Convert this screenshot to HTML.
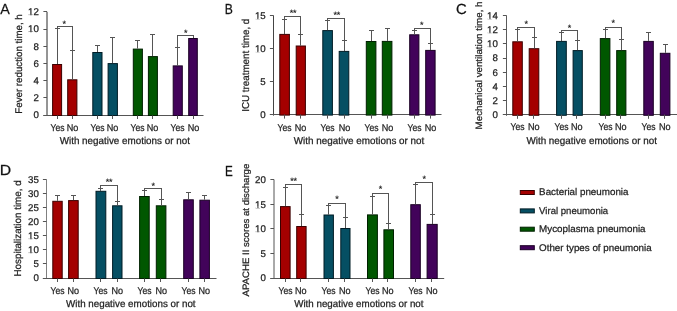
<!DOCTYPE html>
<html><head><meta charset="utf-8"><style>
html,body{margin:0;padding:0;background:#fff;width:677px;height:311px;overflow:hidden}
svg{display:block;font-family:"Liberation Sans", sans-serif;will-change:transform}
text{stroke:#222;stroke-width:0.25px;paint-order:stroke;text-rendering:geometricPrecision}
</style></head><body>
<svg width="677" height="311" viewBox="0 0 677 311">
<rect width="677" height="311" fill="#fff"/>
<line x1="47.00" y1="11.80" x2="47.00" y2="116.00" stroke="#2a2a2a" stroke-width="1"/>
<line x1="43.40" y1="115.50" x2="47.00" y2="115.50" stroke="#555555" stroke-width="1"/>
<text x="38.80" y="118.40" font-size="9.7" text-anchor="end" fill="#1e1e1e">0</text>
<line x1="43.40" y1="97.50" x2="47.00" y2="97.50" stroke="#555555" stroke-width="1"/>
<text x="38.80" y="101.20" font-size="9.7" text-anchor="end" fill="#1e1e1e">2</text>
<line x1="43.40" y1="80.50" x2="47.00" y2="80.50" stroke="#555555" stroke-width="1"/>
<text x="38.80" y="84.00" font-size="9.7" text-anchor="end" fill="#1e1e1e">4</text>
<line x1="43.40" y1="63.50" x2="47.00" y2="63.50" stroke="#555555" stroke-width="1"/>
<text x="38.80" y="66.80" font-size="9.7" text-anchor="end" fill="#1e1e1e">6</text>
<line x1="43.40" y1="46.50" x2="47.00" y2="46.50" stroke="#555555" stroke-width="1"/>
<text x="38.80" y="49.60" font-size="9.7" text-anchor="end" fill="#1e1e1e">8</text>
<line x1="43.40" y1="29.50" x2="47.00" y2="29.50" stroke="#555555" stroke-width="1"/>
<text x="38.80" y="32.40" font-size="9.7" text-anchor="end" fill="#1e1e1e">10</text>
<rect x="28.20" y="31.48" width="2.21" height="1.55" fill="#fff"/>
<rect x="31.52" y="31.48" width="1.75" height="1.55" fill="#fff"/>
<line x1="43.40" y1="11.50" x2="47.00" y2="11.50" stroke="#555555" stroke-width="1"/>
<text x="38.80" y="15.20" font-size="9.7" text-anchor="end" fill="#1e1e1e">12</text>
<rect x="28.20" y="14.28" width="2.21" height="1.55" fill="#fff"/>
<rect x="31.52" y="14.28" width="1.75" height="1.55" fill="#fff"/>
<line x1="43.40" y1="115.50" x2="203.50" y2="115.50" stroke="#555555" stroke-width="1"/>
<rect x="52.60" y="64.50" width="9.00" height="51.00" fill="#a40000" stroke="#3a0000" stroke-width="1"/>
<line x1="57.50" y1="28.50" x2="57.50" y2="64.00" stroke="#555555" stroke-width="1"/>
<line x1="55.00" y1="28.50" x2="60.00" y2="28.50" stroke="#555555" stroke-width="1"/>
<line x1="57.50" y1="115.50" x2="57.50" y2="119.00" stroke="#555555" stroke-width="1"/>
<rect x="67.70" y="79.80" width="9.20" height="35.70" fill="#a40000" stroke="#3a0000" stroke-width="1"/>
<line x1="72.50" y1="50.50" x2="72.50" y2="79.30" stroke="#555555" stroke-width="1"/>
<line x1="70.00" y1="50.50" x2="75.00" y2="50.50" stroke="#555555" stroke-width="1"/>
<line x1="72.50" y1="115.50" x2="72.50" y2="119.00" stroke="#555555" stroke-width="1"/>
<rect x="92.80" y="52.50" width="9.20" height="63.00" fill="#054f63" stroke="#011c25" stroke-width="1"/>
<line x1="97.50" y1="45.50" x2="97.50" y2="52.00" stroke="#555555" stroke-width="1"/>
<line x1="95.00" y1="45.50" x2="100.00" y2="45.50" stroke="#555555" stroke-width="1"/>
<line x1="97.50" y1="115.50" x2="97.50" y2="119.00" stroke="#555555" stroke-width="1"/>
<rect x="108.10" y="63.60" width="9.30" height="51.90" fill="#054f63" stroke="#011c25" stroke-width="1"/>
<line x1="112.50" y1="37.50" x2="112.50" y2="63.10" stroke="#555555" stroke-width="1"/>
<line x1="110.00" y1="37.50" x2="115.00" y2="37.50" stroke="#555555" stroke-width="1"/>
<line x1="112.50" y1="115.50" x2="112.50" y2="119.00" stroke="#555555" stroke-width="1"/>
<rect x="133.30" y="49.10" width="9.10" height="66.40" fill="#005700" stroke="#002000" stroke-width="1"/>
<line x1="137.50" y1="40.50" x2="137.50" y2="48.60" stroke="#555555" stroke-width="1"/>
<line x1="135.00" y1="40.50" x2="140.00" y2="40.50" stroke="#555555" stroke-width="1"/>
<line x1="137.50" y1="115.50" x2="137.50" y2="119.00" stroke="#555555" stroke-width="1"/>
<rect x="148.40" y="56.60" width="9.00" height="58.90" fill="#005700" stroke="#002000" stroke-width="1"/>
<line x1="152.50" y1="34.50" x2="152.50" y2="56.10" stroke="#555555" stroke-width="1"/>
<line x1="150.00" y1="34.50" x2="155.00" y2="34.50" stroke="#555555" stroke-width="1"/>
<line x1="152.50" y1="115.50" x2="152.50" y2="119.00" stroke="#555555" stroke-width="1"/>
<rect x="173.20" y="65.90" width="9.10" height="49.60" fill="#42035a" stroke="#1a0024" stroke-width="1"/>
<line x1="177.50" y1="47.50" x2="177.50" y2="65.40" stroke="#555555" stroke-width="1"/>
<line x1="175.00" y1="47.50" x2="180.00" y2="47.50" stroke="#555555" stroke-width="1"/>
<line x1="177.50" y1="115.50" x2="177.50" y2="119.00" stroke="#555555" stroke-width="1"/>
<rect x="188.70" y="38.50" width="8.60" height="77.00" fill="#42035a" stroke="#1a0024" stroke-width="1"/>
<line x1="193.50" y1="115.50" x2="193.50" y2="119.00" stroke="#555555" stroke-width="1"/>
<line x1="57.00" y1="26.50" x2="73.00" y2="26.50" stroke="#555555" stroke-width="1"/>
<line x1="57.50" y1="26.50" x2="57.50" y2="64.00" stroke="#555555" stroke-width="1"/>
<line x1="72.50" y1="26.50" x2="72.50" y2="79.30" stroke="#555555" stroke-width="1"/>
<text x="64.20" y="26.70" font-size="9" text-anchor="middle" fill="#111" style="stroke-width:0.15px;letter-spacing:-0.3px">*</text>
<line x1="177.00" y1="35.50" x2="194.00" y2="35.50" stroke="#555555" stroke-width="1"/>
<line x1="177.50" y1="35.50" x2="177.50" y2="65.40" stroke="#555555" stroke-width="1"/>
<line x1="193.50" y1="35.50" x2="193.50" y2="38.00" stroke="#555555" stroke-width="1"/>
<text x="185.50" y="35.90" font-size="9" text-anchor="middle" fill="#111" style="stroke-width:0.15px;letter-spacing:-0.3px">*</text>
<text x="57.60" y="131.00" font-size="9.8" text-anchor="middle" fill="#1e1e1e" textLength="14.0" lengthAdjust="spacingAndGlyphs">Yes</text>
<text x="72.60" y="131.00" font-size="9.8" text-anchor="middle" fill="#1e1e1e" textLength="11.6" lengthAdjust="spacingAndGlyphs">No</text>
<text x="97.60" y="131.00" font-size="9.8" text-anchor="middle" fill="#1e1e1e" textLength="14.0" lengthAdjust="spacingAndGlyphs">Yes</text>
<text x="112.60" y="131.00" font-size="9.8" text-anchor="middle" fill="#1e1e1e" textLength="11.6" lengthAdjust="spacingAndGlyphs">No</text>
<text x="137.60" y="131.00" font-size="9.8" text-anchor="middle" fill="#1e1e1e" textLength="14.0" lengthAdjust="spacingAndGlyphs">Yes</text>
<text x="152.60" y="131.00" font-size="9.8" text-anchor="middle" fill="#1e1e1e" textLength="11.6" lengthAdjust="spacingAndGlyphs">No</text>
<text x="177.60" y="131.00" font-size="9.8" text-anchor="middle" fill="#1e1e1e" textLength="14.0" lengthAdjust="spacingAndGlyphs">Yes</text>
<text x="193.60" y="131.00" font-size="9.8" text-anchor="middle" fill="#1e1e1e" textLength="11.6" lengthAdjust="spacingAndGlyphs">No</text>
<text x="124.80" y="143.70" font-size="10.0" text-anchor="middle" fill="#1e1e1e" textLength="130.2" lengthAdjust="spacingAndGlyphs">With negative emotions or not</text>
<text x="0" y="0" font-size="9.7" text-anchor="middle" fill="#1e1e1e" transform="translate(22.0,64.00) rotate(-90)" textLength="99.4" lengthAdjust="spacingAndGlyphs">Fever reduction time, h</text>
<text x="0" y="0" font-size="14.6" fill="#111" transform="translate(0.2,13.5) scale(0.98,1)">A</text>
<line x1="273.50" y1="15.40" x2="273.50" y2="115.60" stroke="#444" stroke-width="1"/>
<line x1="269.90" y1="114.50" x2="273.50" y2="114.50" stroke="#555555" stroke-width="1"/>
<text x="265.70" y="118.00" font-size="9.7" text-anchor="end" fill="#1e1e1e">0</text>
<line x1="269.90" y1="81.50" x2="273.50" y2="81.50" stroke="#555555" stroke-width="1"/>
<text x="265.70" y="84.94" font-size="9.7" text-anchor="end" fill="#1e1e1e">5</text>
<line x1="269.90" y1="48.50" x2="273.50" y2="48.50" stroke="#555555" stroke-width="1"/>
<text x="265.70" y="51.87" font-size="9.7" text-anchor="end" fill="#1e1e1e">10</text>
<rect x="255.10" y="50.95" width="2.21" height="1.55" fill="#fff"/>
<rect x="258.42" y="50.95" width="1.75" height="1.55" fill="#fff"/>
<line x1="269.90" y1="15.50" x2="273.50" y2="15.50" stroke="#555555" stroke-width="1"/>
<text x="265.70" y="18.80" font-size="9.7" text-anchor="end" fill="#1e1e1e">15</text>
<rect x="255.10" y="17.88" width="2.21" height="1.55" fill="#fff"/>
<rect x="258.42" y="17.88" width="1.75" height="1.55" fill="#fff"/>
<line x1="269.90" y1="114.50" x2="441.50" y2="114.50" stroke="#555555" stroke-width="1"/>
<rect x="279.80" y="34.40" width="9.60" height="80.70" fill="#a40000" stroke="#3a0000" stroke-width="1"/>
<line x1="284.50" y1="19.50" x2="284.50" y2="33.90" stroke="#555555" stroke-width="1"/>
<line x1="282.00" y1="19.50" x2="287.00" y2="19.50" stroke="#555555" stroke-width="1"/>
<line x1="284.50" y1="114.50" x2="284.50" y2="118.60" stroke="#555555" stroke-width="1"/>
<rect x="296.20" y="46.00" width="9.20" height="69.10" fill="#a40000" stroke="#3a0000" stroke-width="1"/>
<line x1="300.50" y1="34.50" x2="300.50" y2="45.50" stroke="#555555" stroke-width="1"/>
<line x1="298.00" y1="34.50" x2="303.00" y2="34.50" stroke="#555555" stroke-width="1"/>
<line x1="300.50" y1="114.50" x2="300.50" y2="118.60" stroke="#555555" stroke-width="1"/>
<rect x="322.80" y="30.60" width="9.60" height="84.50" fill="#054f63" stroke="#011c25" stroke-width="1"/>
<line x1="327.50" y1="20.50" x2="327.50" y2="30.10" stroke="#555555" stroke-width="1"/>
<line x1="325.00" y1="20.50" x2="330.00" y2="20.50" stroke="#555555" stroke-width="1"/>
<line x1="327.50" y1="114.50" x2="327.50" y2="118.60" stroke="#555555" stroke-width="1"/>
<rect x="339.20" y="51.40" width="9.60" height="63.70" fill="#054f63" stroke="#011c25" stroke-width="1"/>
<line x1="344.50" y1="40.50" x2="344.50" y2="50.90" stroke="#555555" stroke-width="1"/>
<line x1="342.00" y1="40.50" x2="347.00" y2="40.50" stroke="#555555" stroke-width="1"/>
<line x1="344.50" y1="114.50" x2="344.50" y2="118.60" stroke="#555555" stroke-width="1"/>
<rect x="366.30" y="41.50" width="9.60" height="73.60" fill="#005700" stroke="#002000" stroke-width="1"/>
<line x1="371.50" y1="30.50" x2="371.50" y2="41.00" stroke="#555555" stroke-width="1"/>
<line x1="369.00" y1="30.50" x2="374.00" y2="30.50" stroke="#555555" stroke-width="1"/>
<line x1="371.50" y1="114.50" x2="371.50" y2="118.60" stroke="#555555" stroke-width="1"/>
<rect x="382.30" y="41.40" width="9.60" height="73.70" fill="#005700" stroke="#002000" stroke-width="1"/>
<line x1="387.50" y1="28.50" x2="387.50" y2="40.90" stroke="#555555" stroke-width="1"/>
<line x1="385.00" y1="28.50" x2="390.00" y2="28.50" stroke="#555555" stroke-width="1"/>
<line x1="387.50" y1="114.50" x2="387.50" y2="118.60" stroke="#555555" stroke-width="1"/>
<rect x="409.70" y="34.80" width="9.20" height="80.30" fill="#42035a" stroke="#1a0024" stroke-width="1"/>
<line x1="414.50" y1="30.50" x2="414.50" y2="34.30" stroke="#555555" stroke-width="1"/>
<line x1="412.00" y1="30.50" x2="417.00" y2="30.50" stroke="#555555" stroke-width="1"/>
<line x1="414.50" y1="114.50" x2="414.50" y2="118.60" stroke="#555555" stroke-width="1"/>
<rect x="425.70" y="50.40" width="9.40" height="64.70" fill="#42035a" stroke="#1a0024" stroke-width="1"/>
<line x1="430.50" y1="43.50" x2="430.50" y2="49.90" stroke="#555555" stroke-width="1"/>
<line x1="428.00" y1="43.50" x2="433.00" y2="43.50" stroke="#555555" stroke-width="1"/>
<line x1="430.50" y1="114.50" x2="430.50" y2="118.60" stroke="#555555" stroke-width="1"/>
<line x1="284.00" y1="16.50" x2="301.00" y2="16.50" stroke="#555555" stroke-width="1"/>
<line x1="284.50" y1="16.50" x2="284.50" y2="33.90" stroke="#555555" stroke-width="1"/>
<line x1="300.50" y1="16.50" x2="300.50" y2="45.50" stroke="#555555" stroke-width="1"/>
<text x="293.00" y="15.80" font-size="9" text-anchor="middle" fill="#111" style="stroke-width:0.15px;letter-spacing:-0.3px">**</text>
<line x1="327.00" y1="18.50" x2="345.00" y2="18.50" stroke="#555555" stroke-width="1"/>
<line x1="327.50" y1="18.50" x2="327.50" y2="30.10" stroke="#555555" stroke-width="1"/>
<line x1="344.50" y1="18.50" x2="344.50" y2="50.90" stroke="#555555" stroke-width="1"/>
<text x="336.80" y="17.60" font-size="9" text-anchor="middle" fill="#111" style="stroke-width:0.15px;letter-spacing:-0.3px">**</text>
<line x1="414.00" y1="28.50" x2="431.00" y2="28.50" stroke="#555555" stroke-width="1"/>
<line x1="414.50" y1="28.50" x2="414.50" y2="34.30" stroke="#555555" stroke-width="1"/>
<line x1="430.50" y1="28.50" x2="430.50" y2="49.90" stroke="#555555" stroke-width="1"/>
<text x="421.70" y="28.20" font-size="9" text-anchor="middle" fill="#111" style="stroke-width:0.15px;letter-spacing:-0.3px">*</text>
<text x="284.60" y="130.70" font-size="9.8" text-anchor="middle" fill="#1e1e1e" textLength="14.0" lengthAdjust="spacingAndGlyphs">Yes</text>
<text x="300.60" y="130.70" font-size="9.8" text-anchor="middle" fill="#1e1e1e" textLength="11.6" lengthAdjust="spacingAndGlyphs">No</text>
<text x="327.60" y="130.70" font-size="9.8" text-anchor="middle" fill="#1e1e1e" textLength="14.0" lengthAdjust="spacingAndGlyphs">Yes</text>
<text x="344.60" y="130.70" font-size="9.8" text-anchor="middle" fill="#1e1e1e" textLength="11.6" lengthAdjust="spacingAndGlyphs">No</text>
<text x="371.60" y="130.70" font-size="9.8" text-anchor="middle" fill="#1e1e1e" textLength="14.0" lengthAdjust="spacingAndGlyphs">Yes</text>
<text x="387.60" y="130.70" font-size="9.8" text-anchor="middle" fill="#1e1e1e" textLength="11.6" lengthAdjust="spacingAndGlyphs">No</text>
<text x="414.60" y="130.70" font-size="9.8" text-anchor="middle" fill="#1e1e1e" textLength="14.0" lengthAdjust="spacingAndGlyphs">Yes</text>
<text x="430.60" y="130.70" font-size="9.8" text-anchor="middle" fill="#1e1e1e" textLength="11.6" lengthAdjust="spacingAndGlyphs">No</text>
<text x="359.05" y="143.80" font-size="10.0" text-anchor="middle" fill="#1e1e1e" textLength="130.5" lengthAdjust="spacingAndGlyphs">With negative emotions or not</text>
<text x="0" y="0" font-size="10.0" text-anchor="middle" fill="#1e1e1e" transform="translate(248.5,65.20) rotate(-90)" textLength="93.0" lengthAdjust="spacingAndGlyphs">ICU treatment time, d</text>
<text x="0" y="0" font-size="14.6" fill="#111" transform="translate(224.7,13.6) scale(0.83,1)">B</text>
<line x1="506.50" y1="15.40" x2="506.50" y2="115.80" stroke="#5a5a5a" stroke-width="1"/>
<line x1="502.90" y1="114.50" x2="506.50" y2="114.50" stroke="#555555" stroke-width="1"/>
<text x="497.80" y="118.20" font-size="9.7" text-anchor="end" fill="#1e1e1e">0</text>
<line x1="502.90" y1="100.50" x2="506.50" y2="100.50" stroke="#555555" stroke-width="1"/>
<text x="497.80" y="104.00" font-size="9.7" text-anchor="end" fill="#1e1e1e">2</text>
<line x1="502.90" y1="86.50" x2="506.50" y2="86.50" stroke="#555555" stroke-width="1"/>
<text x="497.80" y="89.80" font-size="9.7" text-anchor="end" fill="#1e1e1e">4</text>
<line x1="502.90" y1="72.50" x2="506.50" y2="72.50" stroke="#555555" stroke-width="1"/>
<text x="497.80" y="75.60" font-size="9.7" text-anchor="end" fill="#1e1e1e">6</text>
<line x1="502.90" y1="58.50" x2="506.50" y2="58.50" stroke="#555555" stroke-width="1"/>
<text x="497.80" y="61.40" font-size="9.7" text-anchor="end" fill="#1e1e1e">8</text>
<line x1="502.90" y1="43.50" x2="506.50" y2="43.50" stroke="#555555" stroke-width="1"/>
<text x="497.80" y="47.20" font-size="9.7" text-anchor="end" fill="#1e1e1e">10</text>
<rect x="487.20" y="46.28" width="2.21" height="1.55" fill="#fff"/>
<rect x="490.52" y="46.28" width="1.75" height="1.55" fill="#fff"/>
<line x1="502.90" y1="29.50" x2="506.50" y2="29.50" stroke="#555555" stroke-width="1"/>
<text x="497.80" y="33.00" font-size="9.7" text-anchor="end" fill="#1e1e1e">12</text>
<rect x="487.20" y="32.08" width="2.21" height="1.55" fill="#fff"/>
<rect x="490.52" y="32.08" width="1.75" height="1.55" fill="#fff"/>
<line x1="502.90" y1="15.50" x2="506.50" y2="15.50" stroke="#555555" stroke-width="1"/>
<text x="497.80" y="18.80" font-size="9.7" text-anchor="end" fill="#1e1e1e">14</text>
<rect x="487.20" y="17.88" width="2.21" height="1.55" fill="#fff"/>
<rect x="490.52" y="17.88" width="1.75" height="1.55" fill="#fff"/>
<line x1="502.90" y1="114.50" x2="677.00" y2="114.50" stroke="#555555" stroke-width="1"/>
<rect x="512.80" y="41.80" width="9.50" height="73.50" fill="#a40000" stroke="#3a0000" stroke-width="1"/>
<line x1="517.50" y1="29.50" x2="517.50" y2="41.30" stroke="#555555" stroke-width="1"/>
<line x1="515.00" y1="29.50" x2="520.00" y2="29.50" stroke="#555555" stroke-width="1"/>
<line x1="517.50" y1="114.50" x2="517.50" y2="118.80" stroke="#555555" stroke-width="1"/>
<rect x="529.20" y="48.70" width="9.60" height="66.60" fill="#a40000" stroke="#3a0000" stroke-width="1"/>
<line x1="534.50" y1="37.50" x2="534.50" y2="48.20" stroke="#555555" stroke-width="1"/>
<line x1="532.00" y1="37.50" x2="537.00" y2="37.50" stroke="#555555" stroke-width="1"/>
<line x1="533.50" y1="114.50" x2="533.50" y2="118.80" stroke="#555555" stroke-width="1"/>
<rect x="556.60" y="41.40" width="9.70" height="73.90" fill="#054f63" stroke="#011c25" stroke-width="1"/>
<line x1="561.50" y1="32.50" x2="561.50" y2="40.90" stroke="#555555" stroke-width="1"/>
<line x1="559.00" y1="32.50" x2="564.00" y2="32.50" stroke="#555555" stroke-width="1"/>
<line x1="561.50" y1="114.50" x2="561.50" y2="118.80" stroke="#555555" stroke-width="1"/>
<rect x="573.10" y="50.60" width="9.20" height="64.70" fill="#054f63" stroke="#011c25" stroke-width="1"/>
<line x1="577.50" y1="40.50" x2="577.50" y2="50.10" stroke="#555555" stroke-width="1"/>
<line x1="575.00" y1="40.50" x2="580.00" y2="40.50" stroke="#555555" stroke-width="1"/>
<line x1="576.50" y1="114.50" x2="576.50" y2="118.80" stroke="#555555" stroke-width="1"/>
<rect x="600.30" y="38.60" width="9.60" height="76.70" fill="#005700" stroke="#002000" stroke-width="1"/>
<line x1="605.50" y1="29.50" x2="605.50" y2="38.10" stroke="#555555" stroke-width="1"/>
<line x1="603.00" y1="29.50" x2="608.00" y2="29.50" stroke="#555555" stroke-width="1"/>
<line x1="605.50" y1="114.50" x2="605.50" y2="118.80" stroke="#555555" stroke-width="1"/>
<rect x="616.70" y="50.60" width="9.20" height="64.70" fill="#005700" stroke="#002000" stroke-width="1"/>
<line x1="621.50" y1="39.50" x2="621.50" y2="50.10" stroke="#555555" stroke-width="1"/>
<line x1="619.00" y1="39.50" x2="624.00" y2="39.50" stroke="#555555" stroke-width="1"/>
<line x1="620.50" y1="114.50" x2="620.50" y2="118.80" stroke="#555555" stroke-width="1"/>
<rect x="643.80" y="41.40" width="9.50" height="73.90" fill="#42035a" stroke="#1a0024" stroke-width="1"/>
<line x1="648.50" y1="32.50" x2="648.50" y2="40.90" stroke="#555555" stroke-width="1"/>
<line x1="646.00" y1="32.50" x2="651.00" y2="32.50" stroke="#555555" stroke-width="1"/>
<line x1="648.50" y1="114.50" x2="648.50" y2="118.80" stroke="#555555" stroke-width="1"/>
<rect x="660.30" y="53.30" width="9.60" height="62.00" fill="#42035a" stroke="#1a0024" stroke-width="1"/>
<line x1="665.50" y1="44.50" x2="665.50" y2="52.80" stroke="#555555" stroke-width="1"/>
<line x1="663.00" y1="44.50" x2="668.00" y2="44.50" stroke="#555555" stroke-width="1"/>
<line x1="664.50" y1="114.50" x2="664.50" y2="118.80" stroke="#555555" stroke-width="1"/>
<line x1="517.00" y1="27.50" x2="535.00" y2="27.50" stroke="#555555" stroke-width="1"/>
<line x1="517.50" y1="27.50" x2="517.50" y2="41.30" stroke="#555555" stroke-width="1"/>
<line x1="534.50" y1="27.50" x2="534.50" y2="48.20" stroke="#555555" stroke-width="1"/>
<text x="526.20" y="27.00" font-size="9" text-anchor="middle" fill="#111" style="stroke-width:0.15px;letter-spacing:-0.3px">*</text>
<line x1="561.00" y1="30.50" x2="578.00" y2="30.50" stroke="#555555" stroke-width="1"/>
<line x1="561.50" y1="30.50" x2="561.50" y2="40.90" stroke="#555555" stroke-width="1"/>
<line x1="577.50" y1="30.50" x2="577.50" y2="50.10" stroke="#555555" stroke-width="1"/>
<text x="569.30" y="30.90" font-size="9" text-anchor="middle" fill="#111" style="stroke-width:0.15px;letter-spacing:-0.3px">*</text>
<line x1="605.00" y1="27.50" x2="622.00" y2="27.50" stroke="#555555" stroke-width="1"/>
<line x1="605.50" y1="27.50" x2="605.50" y2="38.10" stroke="#555555" stroke-width="1"/>
<line x1="621.50" y1="27.50" x2="621.50" y2="50.10" stroke="#555555" stroke-width="1"/>
<text x="613.00" y="26.40" font-size="9" text-anchor="middle" fill="#111" style="stroke-width:0.15px;letter-spacing:-0.3px">*</text>
<text x="517.60" y="130.30" font-size="9.8" text-anchor="middle" fill="#1e1e1e" textLength="14.0" lengthAdjust="spacingAndGlyphs">Yes</text>
<text x="533.70" y="130.30" font-size="9.8" text-anchor="middle" fill="#1e1e1e" textLength="11.6" lengthAdjust="spacingAndGlyphs">No</text>
<text x="561.60" y="130.30" font-size="9.8" text-anchor="middle" fill="#1e1e1e" textLength="14.0" lengthAdjust="spacingAndGlyphs">Yes</text>
<text x="576.70" y="130.30" font-size="9.8" text-anchor="middle" fill="#1e1e1e" textLength="11.6" lengthAdjust="spacingAndGlyphs">No</text>
<text x="605.60" y="130.30" font-size="9.8" text-anchor="middle" fill="#1e1e1e" textLength="14.0" lengthAdjust="spacingAndGlyphs">Yes</text>
<text x="620.70" y="130.30" font-size="9.8" text-anchor="middle" fill="#1e1e1e" textLength="11.6" lengthAdjust="spacingAndGlyphs">No</text>
<text x="648.60" y="130.30" font-size="9.8" text-anchor="middle" fill="#1e1e1e" textLength="14.0" lengthAdjust="spacingAndGlyphs">Yes</text>
<text x="664.70" y="130.30" font-size="9.8" text-anchor="middle" fill="#1e1e1e" textLength="11.6" lengthAdjust="spacingAndGlyphs">No</text>
<text x="591.65" y="143.60" font-size="10.0" text-anchor="middle" fill="#1e1e1e" textLength="130.5" lengthAdjust="spacingAndGlyphs">With negative emotions or not</text>
<text x="0" y="0" font-size="9.3" text-anchor="middle" fill="#1e1e1e" transform="translate(481.6,65.45) rotate(-90)" textLength="127.9" lengthAdjust="spacingAndGlyphs">Mechanical ventilation time, h</text>
<text x="0" y="0" font-size="14.6" fill="#111" transform="translate(456.1,13.6) scale(1.02,1)">C</text>
<line x1="46.50" y1="179.41" x2="46.50" y2="279.00" stroke="#808080" stroke-width="1"/>
<line x1="42.90" y1="278.50" x2="46.50" y2="278.50" stroke="#555555" stroke-width="1"/>
<text x="38.80" y="281.40" font-size="9.7" text-anchor="end" fill="#1e1e1e">0</text>
<line x1="42.90" y1="263.50" x2="46.50" y2="263.50" stroke="#555555" stroke-width="1"/>
<text x="38.80" y="267.31" font-size="9.7" text-anchor="end" fill="#1e1e1e">5</text>
<line x1="42.90" y1="249.50" x2="46.50" y2="249.50" stroke="#555555" stroke-width="1"/>
<text x="38.80" y="253.23" font-size="9.7" text-anchor="end" fill="#1e1e1e">10</text>
<rect x="28.20" y="252.31" width="2.21" height="1.55" fill="#fff"/>
<rect x="31.52" y="252.31" width="1.75" height="1.55" fill="#fff"/>
<line x1="42.90" y1="235.50" x2="46.50" y2="235.50" stroke="#555555" stroke-width="1"/>
<text x="38.80" y="239.15" font-size="9.7" text-anchor="end" fill="#1e1e1e">15</text>
<rect x="28.20" y="238.22" width="2.21" height="1.55" fill="#fff"/>
<rect x="31.52" y="238.22" width="1.75" height="1.55" fill="#fff"/>
<line x1="42.90" y1="221.50" x2="46.50" y2="221.50" stroke="#555555" stroke-width="1"/>
<text x="38.80" y="225.06" font-size="9.7" text-anchor="end" fill="#1e1e1e">20</text>
<line x1="42.90" y1="207.50" x2="46.50" y2="207.50" stroke="#555555" stroke-width="1"/>
<text x="38.80" y="210.97" font-size="9.7" text-anchor="end" fill="#1e1e1e">25</text>
<line x1="42.90" y1="193.50" x2="46.50" y2="193.50" stroke="#555555" stroke-width="1"/>
<text x="38.80" y="196.89" font-size="9.7" text-anchor="end" fill="#1e1e1e">30</text>
<line x1="42.90" y1="179.50" x2="46.50" y2="179.50" stroke="#555555" stroke-width="1"/>
<text x="38.80" y="182.81" font-size="9.7" text-anchor="end" fill="#1e1e1e">35</text>
<line x1="42.90" y1="278.50" x2="216.50" y2="278.50" stroke="#555555" stroke-width="1"/>
<rect x="52.80" y="201.30" width="9.40" height="77.20" fill="#a40000" stroke="#3a0000" stroke-width="1"/>
<line x1="57.50" y1="195.50" x2="57.50" y2="200.80" stroke="#555555" stroke-width="1"/>
<line x1="55.00" y1="195.50" x2="60.00" y2="195.50" stroke="#555555" stroke-width="1"/>
<line x1="57.50" y1="278.50" x2="57.50" y2="282.00" stroke="#555555" stroke-width="1"/>
<rect x="68.60" y="200.60" width="9.60" height="77.90" fill="#a40000" stroke="#3a0000" stroke-width="1"/>
<line x1="73.50" y1="195.50" x2="73.50" y2="200.10" stroke="#555555" stroke-width="1"/>
<line x1="71.00" y1="195.50" x2="76.00" y2="195.50" stroke="#555555" stroke-width="1"/>
<line x1="73.50" y1="278.50" x2="73.50" y2="282.00" stroke="#555555" stroke-width="1"/>
<rect x="96.00" y="191.30" width="9.80" height="87.20" fill="#054f63" stroke="#011c25" stroke-width="1"/>
<line x1="100.50" y1="188.50" x2="100.50" y2="190.80" stroke="#555555" stroke-width="1"/>
<line x1="98.00" y1="188.50" x2="103.00" y2="188.50" stroke="#555555" stroke-width="1"/>
<line x1="100.50" y1="278.50" x2="100.50" y2="282.00" stroke="#555555" stroke-width="1"/>
<rect x="112.60" y="205.80" width="9.40" height="72.70" fill="#054f63" stroke="#011c25" stroke-width="1"/>
<line x1="117.50" y1="201.50" x2="117.50" y2="205.30" stroke="#555555" stroke-width="1"/>
<line x1="115.00" y1="201.50" x2="120.00" y2="201.50" stroke="#555555" stroke-width="1"/>
<line x1="117.50" y1="278.50" x2="117.50" y2="282.00" stroke="#555555" stroke-width="1"/>
<rect x="139.60" y="196.50" width="9.60" height="82.00" fill="#005700" stroke="#002000" stroke-width="1"/>
<line x1="144.50" y1="190.50" x2="144.50" y2="196.00" stroke="#555555" stroke-width="1"/>
<line x1="142.00" y1="190.50" x2="147.00" y2="190.50" stroke="#555555" stroke-width="1"/>
<line x1="144.50" y1="278.50" x2="144.50" y2="282.00" stroke="#555555" stroke-width="1"/>
<rect x="156.30" y="205.80" width="9.60" height="72.70" fill="#005700" stroke="#002000" stroke-width="1"/>
<line x1="161.50" y1="199.50" x2="161.50" y2="205.30" stroke="#555555" stroke-width="1"/>
<line x1="159.00" y1="199.50" x2="164.00" y2="199.50" stroke="#555555" stroke-width="1"/>
<line x1="160.50" y1="278.50" x2="160.50" y2="282.00" stroke="#555555" stroke-width="1"/>
<rect x="183.70" y="199.80" width="9.60" height="78.70" fill="#42035a" stroke="#1a0024" stroke-width="1"/>
<line x1="188.50" y1="192.50" x2="188.50" y2="199.30" stroke="#555555" stroke-width="1"/>
<line x1="186.00" y1="192.50" x2="191.00" y2="192.50" stroke="#555555" stroke-width="1"/>
<line x1="188.50" y1="278.50" x2="188.50" y2="282.00" stroke="#555555" stroke-width="1"/>
<rect x="199.90" y="200.20" width="9.50" height="78.30" fill="#42035a" stroke="#1a0024" stroke-width="1"/>
<line x1="204.50" y1="195.50" x2="204.50" y2="199.70" stroke="#555555" stroke-width="1"/>
<line x1="202.00" y1="195.50" x2="207.00" y2="195.50" stroke="#555555" stroke-width="1"/>
<line x1="204.50" y1="278.50" x2="204.50" y2="282.00" stroke="#555555" stroke-width="1"/>
<line x1="100.00" y1="185.50" x2="118.00" y2="185.50" stroke="#555555" stroke-width="1"/>
<line x1="100.50" y1="185.50" x2="100.50" y2="190.80" stroke="#555555" stroke-width="1"/>
<line x1="117.50" y1="185.50" x2="117.50" y2="205.30" stroke="#555555" stroke-width="1"/>
<text x="108.90" y="184.90" font-size="9" text-anchor="middle" fill="#111" style="stroke-width:0.15px;letter-spacing:-0.3px">**</text>
<line x1="144.00" y1="188.50" x2="162.00" y2="188.50" stroke="#555555" stroke-width="1"/>
<line x1="144.50" y1="188.50" x2="144.50" y2="196.00" stroke="#555555" stroke-width="1"/>
<line x1="161.50" y1="188.50" x2="161.50" y2="205.30" stroke="#555555" stroke-width="1"/>
<text x="153.00" y="188.90" font-size="9" text-anchor="middle" fill="#111" style="stroke-width:0.15px;letter-spacing:-0.3px">*</text>
<text x="57.60" y="294.10" font-size="9.8" text-anchor="middle" fill="#1e1e1e" textLength="14.0" lengthAdjust="spacingAndGlyphs">Yes</text>
<text x="73.30" y="294.10" font-size="9.8" text-anchor="middle" fill="#1e1e1e" textLength="11.6" lengthAdjust="spacingAndGlyphs">No</text>
<text x="100.60" y="294.10" font-size="9.8" text-anchor="middle" fill="#1e1e1e" textLength="14.0" lengthAdjust="spacingAndGlyphs">Yes</text>
<text x="117.30" y="294.10" font-size="9.8" text-anchor="middle" fill="#1e1e1e" textLength="11.6" lengthAdjust="spacingAndGlyphs">No</text>
<text x="144.60" y="294.10" font-size="9.8" text-anchor="middle" fill="#1e1e1e" textLength="14.0" lengthAdjust="spacingAndGlyphs">Yes</text>
<text x="161.30" y="294.10" font-size="9.8" text-anchor="middle" fill="#1e1e1e" textLength="11.6" lengthAdjust="spacingAndGlyphs">No</text>
<text x="188.60" y="294.10" font-size="9.8" text-anchor="middle" fill="#1e1e1e" textLength="14.0" lengthAdjust="spacingAndGlyphs">Yes</text>
<text x="204.30" y="294.10" font-size="9.8" text-anchor="middle" fill="#1e1e1e" textLength="11.6" lengthAdjust="spacingAndGlyphs">No</text>
<text x="130.80" y="307.00" font-size="10.0" text-anchor="middle" fill="#1e1e1e" textLength="129.6" lengthAdjust="spacingAndGlyphs">With negative emotions or not</text>
<text x="0" y="0" font-size="9.9" text-anchor="middle" fill="#1e1e1e" transform="translate(21.4,228.40) rotate(-90)" textLength="96.2" lengthAdjust="spacingAndGlyphs">Hospitalization time, d</text>
<text x="0" y="0" font-size="14.6" fill="#111" transform="translate(-0.2,175.2) scale(1.08,1)">D</text>
<line x1="274.00" y1="179.50" x2="274.00" y2="279.00" stroke="#555" stroke-width="1"/>
<line x1="270.40" y1="278.50" x2="274.00" y2="278.50" stroke="#555555" stroke-width="1"/>
<text x="265.80" y="281.40" font-size="9.7" text-anchor="end" fill="#1e1e1e">0</text>
<line x1="270.40" y1="253.50" x2="274.00" y2="253.50" stroke="#555555" stroke-width="1"/>
<text x="265.80" y="256.77" font-size="9.7" text-anchor="end" fill="#1e1e1e">5</text>
<line x1="270.40" y1="228.50" x2="274.00" y2="228.50" stroke="#555555" stroke-width="1"/>
<text x="265.80" y="232.15" font-size="9.7" text-anchor="end" fill="#1e1e1e">10</text>
<rect x="255.20" y="231.23" width="2.21" height="1.55" fill="#fff"/>
<rect x="258.52" y="231.23" width="1.75" height="1.55" fill="#fff"/>
<line x1="270.40" y1="204.50" x2="274.00" y2="204.50" stroke="#555555" stroke-width="1"/>
<text x="265.80" y="207.53" font-size="9.7" text-anchor="end" fill="#1e1e1e">15</text>
<rect x="255.20" y="206.60" width="2.21" height="1.55" fill="#fff"/>
<rect x="258.52" y="206.60" width="1.75" height="1.55" fill="#fff"/>
<line x1="270.40" y1="179.50" x2="274.00" y2="179.50" stroke="#555555" stroke-width="1"/>
<text x="265.80" y="182.90" font-size="9.7" text-anchor="end" fill="#1e1e1e">20</text>
<line x1="270.40" y1="278.50" x2="444.20" y2="278.50" stroke="#555555" stroke-width="1"/>
<rect x="280.50" y="206.60" width="9.60" height="71.90" fill="#a40000" stroke="#3a0000" stroke-width="1"/>
<line x1="285.50" y1="187.50" x2="285.50" y2="206.10" stroke="#555555" stroke-width="1"/>
<line x1="283.00" y1="187.50" x2="288.00" y2="187.50" stroke="#555555" stroke-width="1"/>
<line x1="285.50" y1="278.50" x2="285.50" y2="282.00" stroke="#555555" stroke-width="1"/>
<rect x="296.70" y="226.50" width="9.40" height="52.00" fill="#a40000" stroke="#3a0000" stroke-width="1"/>
<line x1="301.50" y1="214.50" x2="301.50" y2="226.00" stroke="#555555" stroke-width="1"/>
<line x1="299.00" y1="214.50" x2="304.00" y2="214.50" stroke="#555555" stroke-width="1"/>
<line x1="300.50" y1="278.50" x2="300.50" y2="282.00" stroke="#555555" stroke-width="1"/>
<rect x="324.00" y="215.00" width="9.40" height="63.50" fill="#054f63" stroke="#011c25" stroke-width="1"/>
<line x1="328.50" y1="205.50" x2="328.50" y2="214.50" stroke="#555555" stroke-width="1"/>
<line x1="326.00" y1="205.50" x2="331.00" y2="205.50" stroke="#555555" stroke-width="1"/>
<line x1="328.50" y1="278.50" x2="328.50" y2="282.00" stroke="#555555" stroke-width="1"/>
<rect x="340.80" y="228.50" width="9.20" height="50.00" fill="#054f63" stroke="#011c25" stroke-width="1"/>
<line x1="345.50" y1="217.50" x2="345.50" y2="228.00" stroke="#555555" stroke-width="1"/>
<line x1="343.00" y1="217.50" x2="348.00" y2="217.50" stroke="#555555" stroke-width="1"/>
<line x1="344.50" y1="278.50" x2="344.50" y2="282.00" stroke="#555555" stroke-width="1"/>
<rect x="367.50" y="214.90" width="9.90" height="63.60" fill="#005700" stroke="#002000" stroke-width="1"/>
<line x1="372.50" y1="196.50" x2="372.50" y2="214.40" stroke="#555555" stroke-width="1"/>
<line x1="370.00" y1="196.50" x2="375.00" y2="196.50" stroke="#555555" stroke-width="1"/>
<line x1="372.50" y1="278.50" x2="372.50" y2="282.00" stroke="#555555" stroke-width="1"/>
<rect x="383.90" y="229.80" width="9.60" height="48.70" fill="#005700" stroke="#002000" stroke-width="1"/>
<line x1="388.50" y1="223.50" x2="388.50" y2="229.30" stroke="#555555" stroke-width="1"/>
<line x1="386.00" y1="223.50" x2="391.00" y2="223.50" stroke="#555555" stroke-width="1"/>
<line x1="387.50" y1="278.50" x2="387.50" y2="282.00" stroke="#555555" stroke-width="1"/>
<rect x="410.80" y="204.70" width="9.50" height="73.80" fill="#42035a" stroke="#1a0024" stroke-width="1"/>
<line x1="415.50" y1="184.50" x2="415.50" y2="204.20" stroke="#555555" stroke-width="1"/>
<line x1="413.00" y1="184.50" x2="418.00" y2="184.50" stroke="#555555" stroke-width="1"/>
<line x1="415.50" y1="278.50" x2="415.50" y2="282.00" stroke="#555555" stroke-width="1"/>
<rect x="427.10" y="224.40" width="10.10" height="54.10" fill="#42035a" stroke="#1a0024" stroke-width="1"/>
<line x1="432.50" y1="214.50" x2="432.50" y2="223.90" stroke="#555555" stroke-width="1"/>
<line x1="430.00" y1="214.50" x2="435.00" y2="214.50" stroke="#555555" stroke-width="1"/>
<line x1="431.50" y1="278.50" x2="431.50" y2="282.00" stroke="#555555" stroke-width="1"/>
<line x1="285.00" y1="184.50" x2="302.00" y2="184.50" stroke="#555555" stroke-width="1"/>
<line x1="285.50" y1="184.50" x2="285.50" y2="206.10" stroke="#555555" stroke-width="1"/>
<line x1="301.50" y1="184.50" x2="301.50" y2="226.00" stroke="#555555" stroke-width="1"/>
<text x="293.40" y="184.30" font-size="9" text-anchor="middle" fill="#111" style="stroke-width:0.15px;letter-spacing:-0.3px">**</text>
<line x1="328.00" y1="203.50" x2="346.00" y2="203.50" stroke="#555555" stroke-width="1"/>
<line x1="328.50" y1="203.50" x2="328.50" y2="214.50" stroke="#555555" stroke-width="1"/>
<line x1="345.50" y1="203.50" x2="345.50" y2="228.00" stroke="#555555" stroke-width="1"/>
<text x="336.90" y="202.10" font-size="9" text-anchor="middle" fill="#111" style="stroke-width:0.15px;letter-spacing:-0.3px">*</text>
<line x1="372.00" y1="193.50" x2="389.00" y2="193.50" stroke="#555555" stroke-width="1"/>
<line x1="372.50" y1="193.50" x2="372.50" y2="214.40" stroke="#555555" stroke-width="1"/>
<line x1="388.50" y1="193.50" x2="388.50" y2="229.30" stroke="#555555" stroke-width="1"/>
<text x="380.30" y="192.30" font-size="9" text-anchor="middle" fill="#111" style="stroke-width:0.15px;letter-spacing:-0.3px">*</text>
<line x1="415.00" y1="182.50" x2="433.00" y2="182.50" stroke="#555555" stroke-width="1"/>
<line x1="415.50" y1="182.50" x2="415.50" y2="204.20" stroke="#555555" stroke-width="1"/>
<line x1="432.50" y1="182.50" x2="432.50" y2="223.90" stroke="#555555" stroke-width="1"/>
<text x="424.20" y="181.70" font-size="9" text-anchor="middle" fill="#111" style="stroke-width:0.15px;letter-spacing:-0.3px">*</text>
<text x="285.60" y="294.10" font-size="9.8" text-anchor="middle" fill="#1e1e1e" textLength="14.0" lengthAdjust="spacingAndGlyphs">Yes</text>
<text x="300.70" y="294.10" font-size="9.8" text-anchor="middle" fill="#1e1e1e" textLength="11.6" lengthAdjust="spacingAndGlyphs">No</text>
<text x="328.60" y="294.10" font-size="9.8" text-anchor="middle" fill="#1e1e1e" textLength="14.0" lengthAdjust="spacingAndGlyphs">Yes</text>
<text x="344.70" y="294.10" font-size="9.8" text-anchor="middle" fill="#1e1e1e" textLength="11.6" lengthAdjust="spacingAndGlyphs">No</text>
<text x="372.60" y="294.10" font-size="9.8" text-anchor="middle" fill="#1e1e1e" textLength="14.0" lengthAdjust="spacingAndGlyphs">Yes</text>
<text x="387.70" y="294.10" font-size="9.8" text-anchor="middle" fill="#1e1e1e" textLength="11.6" lengthAdjust="spacingAndGlyphs">No</text>
<text x="415.60" y="294.10" font-size="9.8" text-anchor="middle" fill="#1e1e1e" textLength="14.0" lengthAdjust="spacingAndGlyphs">Yes</text>
<text x="431.70" y="294.10" font-size="9.8" text-anchor="middle" fill="#1e1e1e" textLength="11.6" lengthAdjust="spacingAndGlyphs">No</text>
<text x="358.85" y="307.00" font-size="10.0" text-anchor="middle" fill="#1e1e1e" textLength="129.3" lengthAdjust="spacingAndGlyphs">With negative emotions or not</text>
<text x="0" y="0" font-size="9.3" text-anchor="middle" fill="#1e1e1e" transform="translate(248.7,230.10) rotate(-90)" textLength="132.8" lengthAdjust="spacingAndGlyphs">APACHE II scores at discharge</text>
<text x="0" y="0" font-size="14.6" fill="#111" transform="translate(225.1,175.8) scale(0.8,1)">E</text>
<rect x="520.30" y="190.50" width="14.00" height="4.00" fill="#a40000" stroke="#3a0000" stroke-width="1"/>
<text x="539.10" y="194.80" font-size="9.7" text-anchor="start" fill="#1e1e1e" textLength="89.4" lengthAdjust="spacingAndGlyphs">Bacterial pneumonia</text>
<rect x="520.30" y="208.90" width="14.00" height="4.00" fill="#054f63" stroke="#011c25" stroke-width="1"/>
<text x="539.10" y="213.70" font-size="9.7" text-anchor="start" fill="#1e1e1e" textLength="69.1" lengthAdjust="spacingAndGlyphs">Viral pneumonia</text>
<rect x="520.30" y="227.20" width="14.00" height="4.00" fill="#005700" stroke="#002000" stroke-width="1"/>
<text x="539.10" y="232.10" font-size="9.7" text-anchor="start" fill="#1e1e1e" textLength="106.5" lengthAdjust="spacingAndGlyphs">Mycoplasma pneumonia</text>
<rect x="520.30" y="245.70" width="14.00" height="4.00" fill="#42035a" stroke="#1a0024" stroke-width="1"/>
<text x="539.10" y="250.90" font-size="9.7" text-anchor="start" fill="#1e1e1e" textLength="112.6" lengthAdjust="spacingAndGlyphs">Other types of pneumonia</text>
</svg>
</body></html>
